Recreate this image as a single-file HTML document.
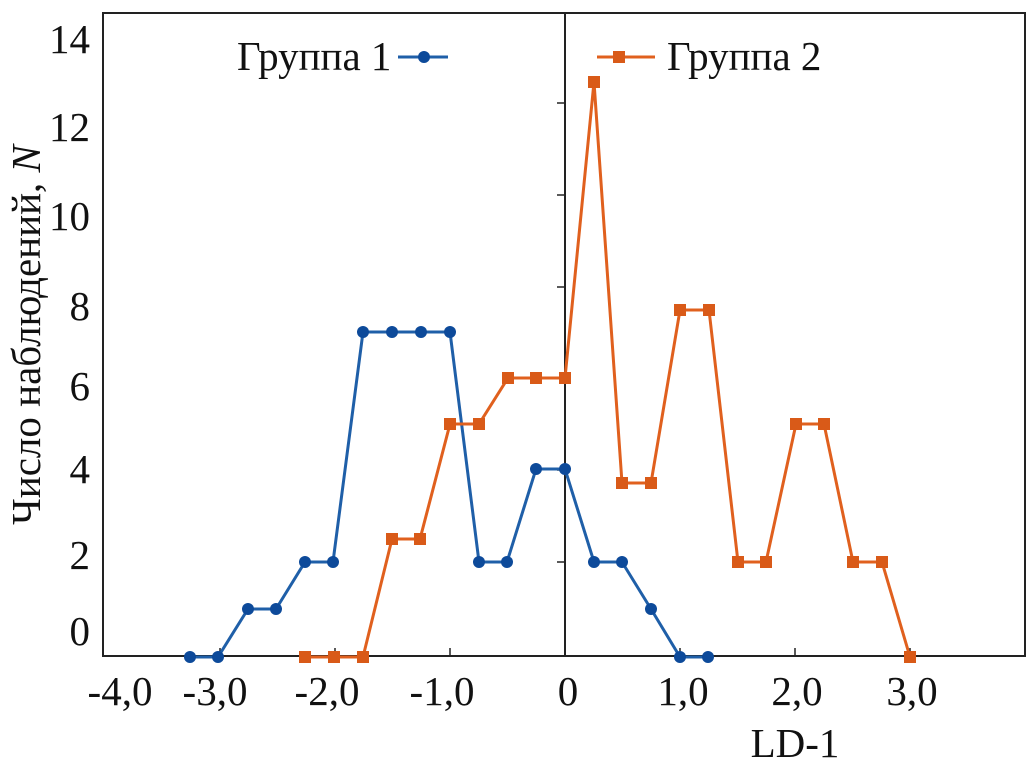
<!DOCTYPE html>
<html><head><meta charset="utf-8"><style>body{margin:0;background:#fff}</style></head>
<body>
<svg width="1033" height="767" xmlns="http://www.w3.org/2000/svg" font-family="Liberation Serif, serif">
<rect x="103" y="13" width="922" height="643" fill="none" stroke="#222" stroke-width="2"/>
<line x1="565" y1="13" x2="565" y2="656" stroke="#222" stroke-width="2"/>
<g stroke="#222" stroke-width="1.5">
<line x1="557" y1="103" x2="565" y2="103"/><line x1="557" y1="195" x2="565" y2="195"/>
<line x1="557" y1="287" x2="565" y2="287"/><line x1="557" y1="378" x2="565" y2="378"/>
<line x1="557" y1="470" x2="565" y2="470"/><line x1="557" y1="562" x2="565" y2="562"/>
<line x1="220" y1="648" x2="220" y2="656"/><line x1="335" y1="648" x2="335" y2="656"/>
<line x1="450" y1="648" x2="450" y2="656"/><line x1="680" y1="648" x2="680" y2="656"/>
<line x1="795" y1="648" x2="795" y2="656"/><line x1="910" y1="648" x2="910" y2="656"/>
</g>
<g font-size="41" fill="#111" text-anchor="end">
<text x="90" y="53">14</text><text x="90" y="141">12</text><text x="90" y="230">10</text>
<text x="90" y="320">8</text><text x="90" y="400">6</text><text x="90" y="483">4</text>
<text x="90" y="569">2</text><text x="90" y="645">0</text>
</g>
<g font-size="41" fill="#111" text-anchor="middle">
<text x="120" y="705">-4,0</text><text x="215" y="705">-3,0</text><text x="327" y="705">-2,0</text>
<text x="442" y="705">-1,0</text><text x="568" y="705">0</text><text x="683" y="705">1,0</text>
<text x="797" y="705">2,0</text><text x="912" y="705">3,0</text>
<text x="795" y="757">LD-1</text>
</g>
<text transform="translate(40,335) rotate(-90)" font-size="41" text-anchor="middle" fill="#111">Число наблюдений, <tspan font-style="italic">N</tspan></text>
<text x="237" y="70" font-size="41" fill="#111">Группа 1</text>
<text x="667" y="70" font-size="41" fill="#111">Группа 2</text>
<line x1="398" y1="57" x2="448" y2="57" stroke="#1f5fa8" stroke-width="3"/><circle cx="424" cy="57" r="6" fill="#0d4a9a"/>
<line x1="597" y1="57" x2="655" y2="57" stroke="#e0601e" stroke-width="3"/><rect x="613" y="51" width="12" height="12" fill="#d95a18"/>
<polyline fill="none" stroke="#1f5fa8" stroke-width="3" points="190,657 218,657 248,609 276,609 305,562 333,562 363,332 392,332 421,332 450,332 479,562 507,562 536,469 565,469 594,562 622,562 651,609 680,657 708,657"/>
<g fill="#0d4a9a">
<circle cx="190" cy="657" r="6"/><circle cx="218" cy="657" r="6"/><circle cx="248" cy="609" r="6"/><circle cx="276" cy="609" r="6"/><circle cx="305" cy="562" r="6"/><circle cx="333" cy="562" r="6"/><circle cx="363" cy="332" r="6"/><circle cx="392" cy="332" r="6"/><circle cx="421" cy="332" r="6"/><circle cx="450" cy="332" r="6"/><circle cx="479" cy="562" r="6"/><circle cx="507" cy="562" r="6"/><circle cx="536" cy="469" r="6"/><circle cx="565" cy="469" r="6"/><circle cx="594" cy="562" r="6"/><circle cx="622" cy="562" r="6"/><circle cx="651" cy="609" r="6"/><circle cx="680" cy="657" r="6"/><circle cx="708" cy="657" r="6"/>
</g>
<polyline fill="none" stroke="#e0601e" stroke-width="3" points="305,657 334,657 363,657 392,539 420,539 450,424 479,424 508,378 536,378 565,378 594,82 622,483 651,483 680,310 709,310 738,562 766,562 796,424 824,424 853,562 882,562 910,657"/>
<g fill="#d95a18">
<rect x="299" y="651" width="12" height="12"/><rect x="328" y="651" width="12" height="12"/><rect x="357" y="651" width="12" height="12"/><rect x="386" y="533" width="12" height="12"/><rect x="414" y="533" width="12" height="12"/><rect x="444" y="418" width="12" height="12"/><rect x="473" y="418" width="12" height="12"/><rect x="502" y="372" width="12" height="12"/><rect x="530" y="372" width="12" height="12"/><rect x="559" y="372" width="12" height="12"/><rect x="588" y="76" width="12" height="12"/><rect x="616" y="477" width="12" height="12"/><rect x="645" y="477" width="12" height="12"/><rect x="674" y="304" width="12" height="12"/><rect x="703" y="304" width="12" height="12"/><rect x="732" y="556" width="12" height="12"/><rect x="760" y="556" width="12" height="12"/><rect x="790" y="418" width="12" height="12"/><rect x="818" y="418" width="12" height="12"/><rect x="847" y="556" width="12" height="12"/><rect x="876" y="556" width="12" height="12"/><rect x="904" y="651" width="12" height="12"/>
</g>
</svg>
</body></html>
